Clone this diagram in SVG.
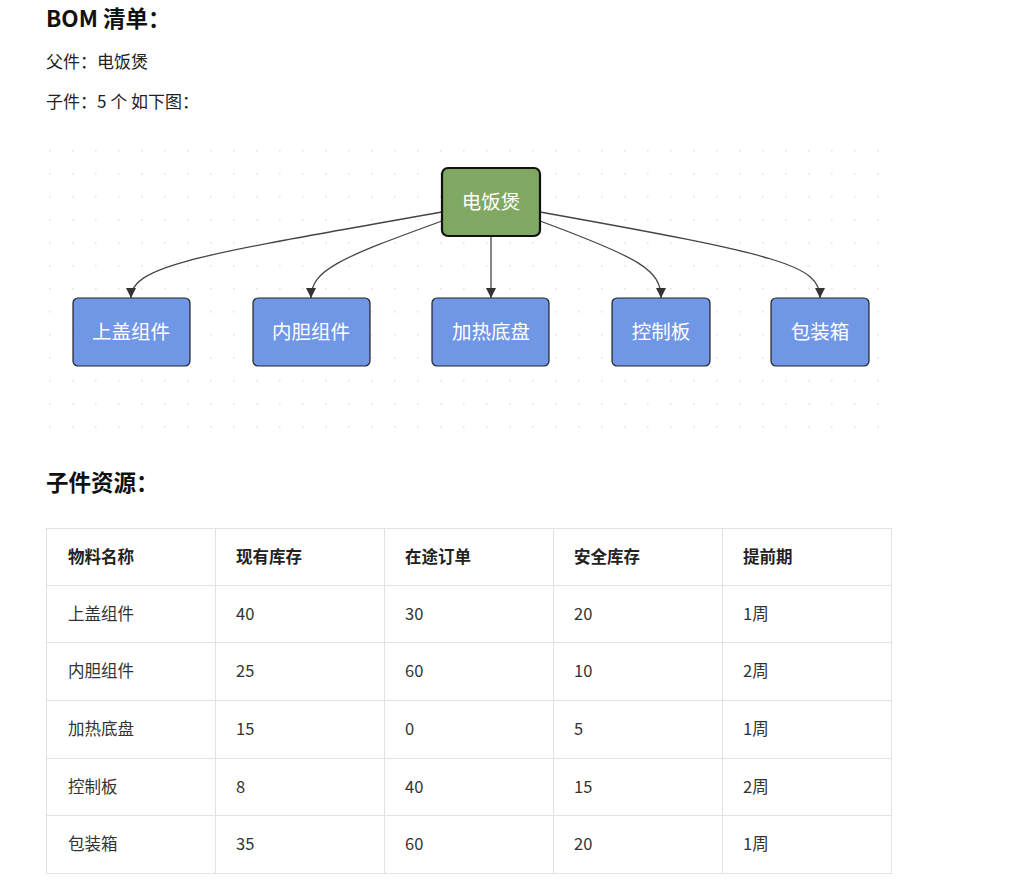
<svg xmlns="http://www.w3.org/2000/svg" width="1024" height="895" viewBox="0 0 1024 895">
<defs>
<pattern id="dots" x="49" y="150" width="23" height="23" patternUnits="userSpaceOnUse"><circle cx="0.8" cy="0.8" r="0.9" fill="#e4e4e4"/></pattern>
<marker id="arr" viewBox="0 0 10 10" refX="10" refY="5" markerWidth="10" markerHeight="10" markerUnits="userSpaceOnUse" orient="auto"><path d="M0,0L10,5L0,10z" fill="#333"/></marker>
</defs>
<style>
text{font-family:"Noto Sans CJK SC","Noto Sans",sans-serif;fill:#222}
.h{font-size:22.5px;font-weight:bold;fill:#111}
.p{font-size:17px}
.n{fill:#7096e6;stroke:#222;stroke-width:1.2}
.nt{font-size:19.5px;fill:#fff;text-anchor:middle}
.e{fill:none;stroke:#444;stroke-width:1.3;marker-end:url(#arr)}
.th{font-size:16.5px;font-weight:bold;fill:#222}
.td{font-size:16.5px;fill:#333}
.g{stroke:#e2e2e2;stroke-width:1;fill:none}
</style>
<rect width="1024" height="895" fill="#fff"/>
<text class="h" x="46" y="27">BOM 清单：</text>
<text class="p" x="46" y="68">父件：电饭煲</text>
<text class="p" x="46" y="108">子件：5 个 如下图：</text>
<rect x="46" y="146" width="846" height="284" fill="url(#dots)"/>
<g id="edges">
<path class="e" d="M442,212 C200,255 131,265 131,298"/>
<path class="e" d="M442,221 C340,258 311,270 311,298"/>
<path class="e" d="M491,236 L491,298"/>
<path class="e" d="M540,221 C640,258 661,270 661,298"/>
<path class="e" d="M540,212 C780,255 820,265 820,298"/>
</g>
<g id="root"><rect x="442" y="168" width="98" height="68" rx="6" fill="#80a862" stroke="#111" stroke-width="2.2"/><text class="nt" x="491" y="209">电饭煲</text></g>
<g id="n1"><rect class="n" x="73" y="298" width="117" height="68" rx="5"/><text class="nt" x="131" y="339">上盖组件</text></g>
<g id="n2"><rect class="n" x="253" y="298" width="117" height="68" rx="5"/><text class="nt" x="311" y="339">内胆组件</text></g>
<g id="n3"><rect class="n" x="432" y="298" width="117" height="68" rx="5"/><text class="nt" x="491" y="339">加热底盘</text></g>
<g id="n4"><rect class="n" x="612" y="298" width="98" height="68" rx="5"/><text class="nt" x="661" y="339">控制板</text></g>
<g id="n5"><rect class="n" x="771" y="298" width="98" height="68" rx="5"/><text class="nt" x="820" y="339">包装箱</text></g>
<text class="h" x="46" y="491">子件资源：</text>
<g id="table">
<rect class="g" x="46.5" y="528.5" width="845" height="345"/>
<path class="g" d="M46,585.5H892M46,642.5H892M46,700.5H892M46,758.5H892M46,815.5H892M215.5,528V874M384.5,528V874M553.5,528V874M722.5,528V874"/>
<text class="th" x="68" y="563">物料名称</text><text class="th" x="236" y="563">现有库存</text><text class="th" x="405" y="563">在途订单</text><text class="th" x="574" y="563">安全库存</text><text class="th" x="743" y="563">提前期</text>
<text class="td" x="68" y="620">上盖组件</text><text class="td" x="236" y="620">40</text><text class="td" x="405" y="620">30</text><text class="td" x="574" y="620">20</text><text class="td" x="743" y="620">1周</text>
<text class="td" x="68" y="677">内胆组件</text><text class="td" x="236" y="677">25</text><text class="td" x="405" y="677">60</text><text class="td" x="574" y="677">10</text><text class="td" x="743" y="677">2周</text>
<text class="td" x="68" y="735">加热底盘</text><text class="td" x="236" y="735">15</text><text class="td" x="405" y="735">0</text><text class="td" x="574" y="735">5</text><text class="td" x="743" y="735">1周</text>
<text class="td" x="68" y="793">控制板</text><text class="td" x="236" y="793">8</text><text class="td" x="405" y="793">40</text><text class="td" x="574" y="793">15</text><text class="td" x="743" y="793">2周</text>
<text class="td" x="68" y="850">包装箱</text><text class="td" x="236" y="850">35</text><text class="td" x="405" y="850">60</text><text class="td" x="574" y="850">20</text><text class="td" x="743" y="850">1周</text>
</g>
</svg>
